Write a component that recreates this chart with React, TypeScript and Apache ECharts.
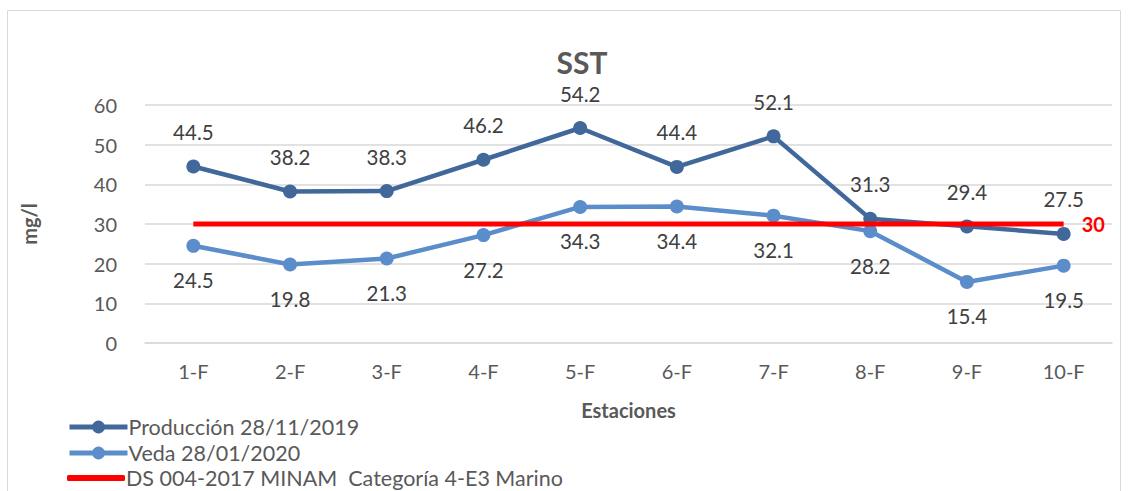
import React, { useEffect, useRef } from "react";
import * as echarts from "echarts";

const categories = ["1-F", "2-F", "3-F", "4-F", "5-F", "6-F", "7-F", "8-F", "9-F", "10-F"];
const produccion = [44.5, 38.2, 38.3, 46.2, 54.2, 44.4, 52.1, 31.3, 29.4, 27.5];
const veda = [24.5, 19.8, 21.3, 27.2, 34.3, 34.4, 32.1, 28.2, 15.4, 19.5];
const limite = [30, 30, 30, 30, 30, 30, 30, 30, 30, 30];
const seriesNames = ["Producción 28/11/2019", "Veda 28/01/2020", "DS 004-2017 MINAM  Categoría 4-E3 Marino"];

const FONT = "Lato, 'Open Sans', sans-serif";

const legendBase = {
  orient: "horizontal",
  left: 62,
  itemWidth: 58,
  itemHeight: 16,
  lineStyle: { width: 5 },
  textStyle: { fontFamily: FONT, fontSize: 21.5, color: "#595959", padding: [0, 0, 0, -4] },
};

export default function App() {
  const ref = useRef<HTMLDivElement>(null);
  useEffect(() => {
    const chart = echarts.init(ref.current!, undefined, { renderer: "svg" });
    chart.setOption({
      animation: false,
      backgroundColor: "#ffffff",
      textStyle: { fontFamily: FONT },
      title: {
        text: "SST",
        left: 577,
        textAlign: "center",
        top: 42,
        textStyle: { fontFamily: FONT, fontSize: 30, fontWeight: "bold", color: "#595959" },
      },
      graphic: [
        {
          type: "rect",
          shape: { x: 7.5, y: 10.5, width: 1113, height: 490 },
          style: { fill: "none", stroke: "#d9d9d9", lineWidth: 1 },
          silent: true,
        },
      ],
      legend: [
        { ...legendBase, top: 411, data: [seriesNames[0]] },
        { ...legendBase, top: 437, data: [seriesNames[1]] },
        {
          ...legendBase,
          top: 462,
          itemHeight: 6,
          data: [{ name: seriesNames[2], icon: "roundRect" }],
          textStyle: { ...legendBase.textStyle, padding: [2, 0, 0, -4] },
        },
      ],
      grid: { left: 145, right: 18, top: 105, bottom: 148 },
      xAxis: {
        type: "category",
        data: categories,
        boundaryGap: true,
        name: "Estaciones",
        nameLocation: "middle",
        nameGap: 57,
        nameTextStyle: { fontFamily: FONT, fontSize: 20, fontWeight: "bold", color: "#595959" },
        axisLine: { lineStyle: { color: "#d9d9d9", width: 1.5 } },
        axisTick: { show: false },
        axisLabel: { fontFamily: FONT, fontSize: 20, color: "#595959", margin: 18 },
      },
      yAxis: {
        type: "value",
        min: 0,
        max: 60,
        interval: 10,
        name: "mg/l",
        nameLocation: "middle",
        nameGap: 106,
        nameTextStyle: { fontFamily: FONT, fontSize: 20, fontWeight: "bold", color: "#595959" },
        axisLine: { show: false },
        axisTick: { show: false },
        axisLabel: { fontFamily: FONT, fontSize: 20, color: "#595959", margin: 28 },
        splitLine: { lineStyle: { color: "#d9d9d9", width: 1.5 } },
      },
      series: [
        {
          name: seriesNames[0],
          type: "line",
          data: produccion,
          color: "#41689b",
          lineStyle: { width: 4.5, color: "#41689b" },
          symbol: "circle",
          symbolSize: 14,
          itemStyle: { color: "#41689b" },
          label: {
            show: true,
            position: "top",
            distance: 17,
            fontFamily: FONT,
            fontSize: 20.5,
            color: "#404040",
          },
          z: 3,
        },
        {
          name: seriesNames[1],
          type: "line",
          data: veda,
          color: "#5b8dcb",
          lineStyle: { width: 4.5, color: "#5b8dcb" },
          symbol: "circle",
          symbolSize: 14,
          itemStyle: { color: "#5b8dcb" },
          label: {
            show: true,
            position: "bottom",
            distance: 17,
            fontFamily: FONT,
            fontSize: 20.5,
            color: "#404040",
          },
          z: 3,
        },
        {
          name: seriesNames[2],
          type: "line",
          data: limite,
          color: "#ff0000",
          lineStyle: { width: 5, color: "#ff0000" },
          symbol: "none",
          showSymbol: false,
          itemStyle: { color: "#ff0000" },
          endLabel: {
            show: true,
            fontFamily: FONT,
            fontSize: 20,
            fontWeight: "bold",
            color: "#ff0000",
            distance: 18,
            formatter: (p: any) => String(p.value),
          },
          z: 4,
        },
      ],
    });
    return () => chart.dispose();
  }, []);
  return <div ref={ref} style={{ position: "fixed", left: 0, top: 0, width: 1130, height: 491 }} />;
}
